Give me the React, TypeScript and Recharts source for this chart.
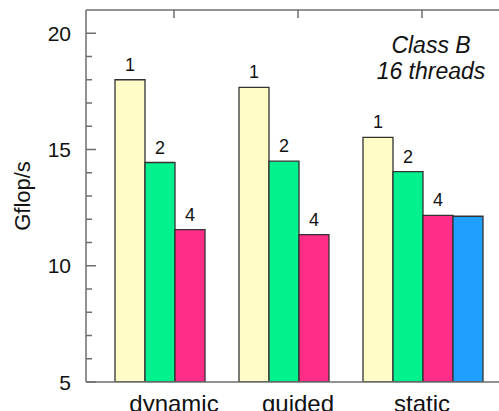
import { BarChart, Bar, XAxis, YAxis, LabelList } from 'recharts';

// scheduling policies on the x axis
const schedules = ['dynamic', 'guided', 'static'];

// Gflop/s per chunk setting (1, 2, 4, 8)
const chunk1 = [18.0, 17.67, 15.52];
const chunk2 = [14.44, 14.5, 14.05];
const chunk4 = [11.55, 11.34, 12.17];
const chunk8 = [null, null, 12.13];

const yTicks = [5, 6, 7, 8, 9, 10, 11, 12, 13, 14, 15, 16, 17, 18, 19, 20];
const yLabelTicks = [5, 10, 15, 20];

const data = schedules.map((name, i) => ({
  name,
  c1: chunk1[i],
  c2: chunk2[i],
  c4: chunk4[i],
  c8: chunk8[i],
}));

const FONT = '"Liberation Sans", Arial, Helvetica, sans-serif';
const AXIS = '#6e6e6e';
const BAR_STROKE = '#333';

const YTick = (props: any) => {
  const { x, y, payload } = props;
  const major = yLabelTicks.includes(payload.value);
  return (
    <g>
      <line x1={x} x2={x + (major ? 10 : 6)} y1={y} y2={y} stroke={AXIS} strokeWidth={1.5} />
      {major && (
        <text
          x={x - 15}
          y={y}
          textAnchor="end"
          dominantBaseline="central"
          fontSize={21}
          fontFamily={FONT}
          fill="#111"
        >
          {payload.value}
        </text>
      )}
    </g>
  );
};

const TopTick = (props: any) => {
  const { x, y } = props;
  return <line x1={x} x2={x} y1={y} y2={y + 8} stroke={AXIS} strokeWidth={1.5} />;
};

const YLabel = (props: any) => {
  const { viewBox } = props;
  const cx = viewBox.x + 22;
  const cy = viewBox.y + viewBox.height / 2;
  return (
    <text
      x={cx}
      y={cy}
      transform={`rotate(-90 ${cx} ${cy})`}
      textAnchor="middle"
      dominantBaseline="central"
      fontSize={22}
      fontFamily={FONT}
      fill="#111"
    >
      Gflop/s
    </text>
  );
};

const barLabel = { position: 'top' as const, offset: 9, fontSize: 18, fontFamily: FONT, fill: '#111' };

export default function App() {
  return (
    <div style={{ position: 'absolute', top: 0, left: 0, width: 499, height: 411, overflow: 'hidden', background: '#fff' }}>
      <BarChart
        width={520}
        height={411}
        data={data}
        margin={{ top: 9, right: 10, bottom: 0, left: 0 }}
        barCategoryGap={3}
        barGap={0}
      >
        <XAxis
          dataKey="name"
          padding={{ left: 26, right: 26 }}
          height={29}
          axisLine={{ stroke: AXIS, strokeWidth: 1.5 }}
          tickLine={false}
          tickSize={0}
          tickMargin={13}
          tick={{ fontSize: 24, fontFamily: FONT, fill: '#111' }}
        />
        <XAxis
          xAxisId="top"
          orientation="top"
          dataKey="name"
          padding={{ left: 26, right: 26 }}
          height={1}
          axisLine={{ stroke: AXIS, strokeWidth: 1.5 }}
          tickLine={false}
          tickSize={0}
          tickMargin={0}
          tick={<TopTick />}
        />
        <YAxis
          type="number"
          domain={[5, 21]}
          ticks={yTicks}
          interval={0}
          width={86}
          axisLine={{ stroke: AXIS, strokeWidth: 1.5 }}
          tickLine={false}
          tickSize={0}
          tickMargin={0}
          tick={<YTick />}
          allowDataOverflow
          label={<YLabel />}
        />
        <Bar dataKey="c1" fill="#FFFCC8" stroke={BAR_STROKE} strokeWidth={1.3} isAnimationActive={false}>
          <LabelList dataKey="c1" {...barLabel} formatter={() => '1'} />
        </Bar>
        <Bar dataKey="c2" fill="#00F18D" stroke={BAR_STROKE} strokeWidth={1.3} isAnimationActive={false}>
          <LabelList dataKey="c2" {...barLabel} formatter={() => '2'} />
        </Bar>
        <Bar dataKey="c4" fill="#FF2C88" stroke={BAR_STROKE} strokeWidth={1.3} isAnimationActive={false}>
          <LabelList dataKey="c4" {...barLabel} formatter={() => '4'} />
        </Bar>
        <Bar dataKey="c8" fill="#1FA0FF" stroke={BAR_STROKE} strokeWidth={1.3} isAnimationActive={false} />
        <text x={431} y={53} textAnchor="middle" fontSize={23} fontStyle="italic" fontFamily={FONT} fill="#111">
          Class B
        </text>
        <text x={431} y={79} textAnchor="middle" fontSize={23} fontStyle="italic" fontFamily={FONT} fill="#111">
          16 threads
        </text>
      </BarChart>
    </div>
  );
}
